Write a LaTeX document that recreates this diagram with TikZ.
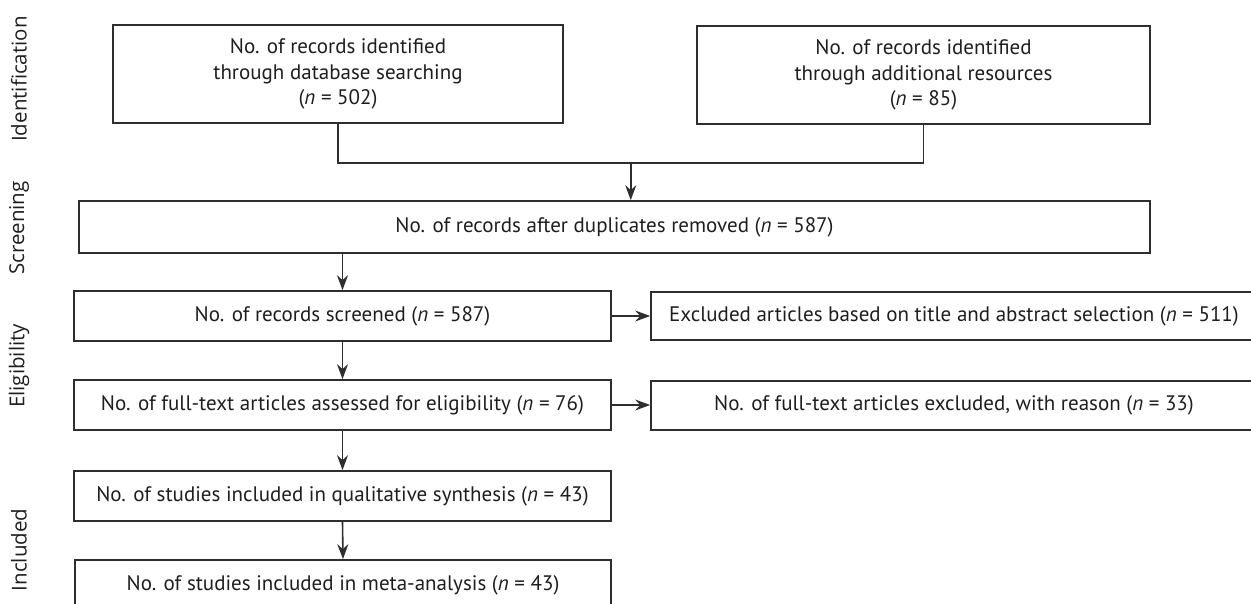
\documentclass[tikz,border=0pt]{standalone}
\usepackage{fontspec}
\setmainfont{PT Sans}
\newfontfamily\sidefont{Open Sans}
\usetikzlibrary{arrows.meta,positioning,calc}
\definecolor{linec}{HTML}{2E2E2E}
\definecolor{textc}{HTML}{1E1E1E}
\begin{document}
\begin{tikzpicture}[x=1pt,y=-1pt,
  box/.style={draw=linec,line width=1.7pt,rectangle,inner sep=0pt,align=center,text=textc,font=\fontsize{21}{25.5}\selectfont},
  conn/.style={draw=linec,line width=1.6pt},
  arr/.style={conn,-{Stealth[length=15pt,width=11pt,inset=5pt]}},
  side/.style={rotate=90,inner sep=0pt,anchor=center,font=\sidefont\fontsize{20.5}{24}\selectfont,text=textc}]
\useasboundingbox (0,0) rectangle (1251,604);
\clip (0,0) rectangle (1251,604);
\node[box,minimum width=450pt,minimum height=98pt] (id1) at (338,74) {No. of records identified\\through database searching\\(\textit{n} = 502)};
\node[box,minimum width=453pt,minimum height=98pt] (id2) at (923.5,75) {No. of records identified\\through additional resources\\(\textit{n} = 85)};
\node[box,minimum width=1071pt,minimum height=52pt] (dup) at (614.5,227) {No. of records after duplicates removed (\textit{n} = 587)};
\node[box,minimum width=537pt,minimum height=50pt] (scr) at (342.5,316) {No. of records screened (\textit{n} = 587)};
\node[box,minimum width=606pt,minimum height=48pt] (ex1) at (954,316) {Excluded articles based on title and abstract selection (\textit{n} = 511)};
\node[box,minimum width=537pt,minimum height=50pt] (ft) at (342.5,405) {No. of full-text articles assessed for eligibility (\textit{n} = 76)};
\node[box,minimum width=606pt,minimum height=49pt] (ex2) at (954,405.5) {No. of full-text articles excluded, with reason (\textit{n} = 33)};
\node[box,minimum width=537pt,minimum height=50pt] (qual) at (342.5,496) {No. of studies included in qualitative synthesis (\textit{n} = 43)};
\node[box,minimum width=536pt,minimum height=50pt] (meta) at (343,585) {No. of studies included in meta-analysis (\textit{n} = 43)};
\coordinate (j1) at (id1.south |- 0,163);
\coordinate (j2) at (id2.south |- 0,163);
\coordinate (jm) at ($(j1)!0.5!(j2)$);
\draw[conn] (id1.south) -- (j1) -- (j2) -- (id2.south);
\draw[arr] (jm) -- (jm |- dup.north);
\draw[arr] (scr.north |- dup.south) -- (scr.north);
\draw[arr] (scr.south) -- (ft.north);
\draw[arr] (ft.south) -- (qual.north);
\draw[arr] (qual.south) -- (meta.north);
\draw[arr] (scr.east) -- (scr.east -| ex1.west);
\draw[arr] (ft.east) -- (ft.east -| ex2.west);
\node[side] (l1) at (19,79) {Identification};
\node[side] (l2) at (19,228) {Screening};
\node[side] (l3) at (19,366) {Eligibility};
\node[side] (l4) at (19,550) {Included};
\end{tikzpicture}
\end{document}
